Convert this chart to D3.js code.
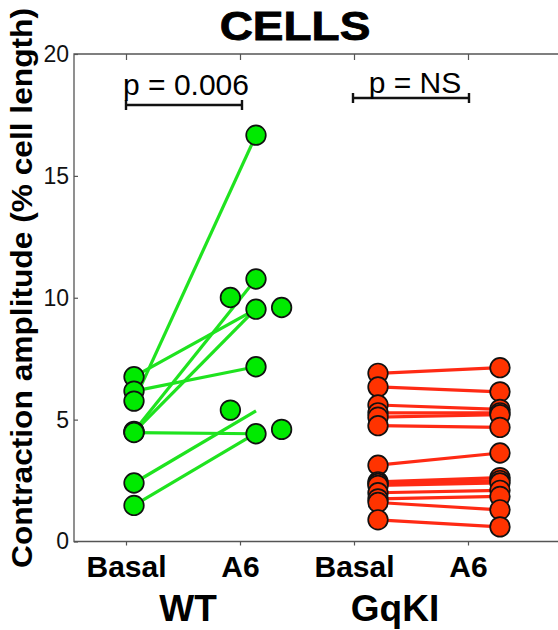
<!DOCTYPE html>
<html>
<head>
<meta charset="utf-8">
<script src="https://cdn.jsdelivr.net/npm/d3@7"></script>
<style>
  body { margin: 0; background: #fff; }
  svg { display: block; }
  text { font-family: "Liberation Sans", Arial, Helvetica, sans-serif; }
</style>
</head>
<body>
<div id="chart"></div>
<script>
const width = 558;
const height = 630;
const frame = { left: 74, right: 558, top: 54, bottom: 541.5 };

const categories = ["Basal", "A6", "Basal", "A6"];
const groups = ["WT", "GqKI"];
const yTicks = [0, 5, 10, 15, 20];
const pLabels = ["p = 0.006", "p = NS"];

// paired values, Basal -> A6 (one line per cell)
const wtBasal = [6.76, 6.17, 5.76, 4.52, 4.49, 4.47, 2.4, 1.48];
const wtA6 = [9.53, 7.17, 16.67, 10.77, 9.55, 4.42, 5.36, 4.45];
// A6 markers as plotted in the figure: [column, value]
const wtA6Dots = [
  [2, 16.67], [2, 10.77], [1.79, 10.01], [2, 9.53], [2.21, 9.6],
  [2, 7.17], [1.79, 5.39], [2, 4.42], [2.21, 4.6],
];
const gqBasal = [6.9, 6.34, 5.6, 5.28, 5.1, 4.75, 3.13, 2.45, 2.38, 2.3, 2.0, 1.75, 1.6, 0.89];
const gqA6 = [7.13, 6.14, 5.42, 5.28, 5.2, 4.68, 3.63, 2.62, 2.5, 2.4, 2.1, 1.85, 1.3, 0.6];

const green = { line: "#1fe31f", fill: "#00ea00" };
const red = { line: "#ff2a14", fill: "#ff3300" };

const svg = d3.select("#chart")
  .append("svg")
  .attr("width", width)
  .attr("height", height);

const y = d3.scaleLinear().domain([0, 20]).range([frame.bottom, frame.top]);
const x = d3.scaleLinear().domain([1, 4]).range([134, 500]);
const xCat = d3.scalePoint().domain([0, 1, 2, 3]).range([126, 468]);

// frame lines (left, top, bottom)
svg.append("path")
  .attr("d", `M${frame.right},${frame.top}H${frame.left}V${frame.bottom}H${frame.right}`)
  .attr("fill", "none")
  .attr("stroke", "#555")
  .attr("stroke-width", 1.3);

const yAxis = svg.append("g")
  .attr("transform", `translate(${frame.left},0)`)
  .call(d3.axisLeft(y).tickValues(yTicks).tickSizeInner(-4).tickSizeOuter(0).tickPadding(5));
yAxis.select(".domain").remove();
yAxis.selectAll("line").attr("stroke", "#555").attr("stroke-width", 1.2);
yAxis.selectAll("text").attr("font-size", 23).attr("fill", "#111").attr("font-family", "Liberation Sans, Arial, sans-serif");

const topAxis = svg.append("g")
  .attr("transform", `translate(0,${frame.top})`)
  .call(d3.axisTop(xCat).tickSizeInner(-6).tickSizeOuter(0).tickFormat(""));
topAxis.select(".domain").remove();
topAxis.selectAll("line").attr("stroke", "#555").attr("stroke-width", 1.2);

const bottomAxis = svg.append("g")
  .attr("transform", `translate(0,${frame.bottom})`)
  .call(d3.axisBottom(xCat).tickSizeInner(4).tickSizeOuter(0).tickPadding(10).tickFormat((i) => categories[i]));
bottomAxis.select(".domain").remove();
bottomAxis.selectAll("line").attr("stroke", "#555").attr("stroke-width", 1.2);
bottomAxis.selectAll("text")
  .attr("font-size", 30)
  .attr("font-weight", "bold")
  .attr("fill", "#000")
  .attr("font-family", "Liberation Sans, Arial, sans-serif");

// group labels
svg.selectAll(".group-label")
  .data(groups)
  .join("text")
  .attr("class", "group-label")
  .attr("x", (d, i) => [188, 395][i])
  .attr("y", 621)
  .attr("text-anchor", "middle")
  .attr("font-size", 37)
  .attr("font-weight", "bold")
  .text((d) => d);

// title
svg.append("text")
  .attr("transform", "translate(295,40) scale(1.15,1)")
  .attr("text-anchor", "middle")
  .attr("font-size", 40)
  .attr("font-weight", "bold")
  .attr("stroke", "#000")
  .attr("stroke-width", 0.8)
  .text("CELLS");

// y label
svg.append("text")
  .attr("transform", "translate(32,288) rotate(-90)")
  .attr("text-anchor", "middle")
  .attr("font-size", 29)
  .attr("font-weight", "bold")
  .attr("textLength", 560)
  .attr("lengthAdjust", "spacingAndGlyphs")
  .text("Contraction amplitude (% cell length)");

// significance brackets
const brackets = [
  { x0: xCat(0), x1: xCat(1) + 2, y: 105, tx: 186, ty: 95 },
  { x0: xCat(2) - 1, x1: xCat(3) + 1, y: 98, tx: 415, ty: 93 },
];
brackets.forEach((b, i) => {
  svg.append("path")
    .attr("d", `M${b.x0},${b.y - 5}V${b.y + 5}M${b.x0},${b.y}H${b.x1}M${b.x1},${b.y - 5}V${b.y + 5}`)
    .attr("fill", "none")
    .attr("stroke", "#111")
    .attr("stroke-width", 2.4);
  svg.append("text")
    .attr("x", b.tx)
    .attr("y", b.ty)
    .attr("text-anchor", "middle")
    .attr("font-size", 30)
    .text(pLabels[i]);
});

function drawPairs(basal, a6, colBasal, colA6, colors) {
  svg.append("g")
    .selectAll("line")
    .data(d3.zip(basal, a6))
    .join("line")
    .attr("x1", x(colBasal))
    .attr("y1", (d) => y(d[0]))
    .attr("x2", x(colA6))
    .attr("y2", (d) => y(d[1]))
    .attr("stroke", colors.line)
    .attr("stroke-width", 3.2);
}

function drawDots(points, colors) {
  svg.append("g")
    .selectAll("circle")
    .data(points)
    .join("circle")
    .attr("cx", (d) => x(d[0]))
    .attr("cy", (d) => y(d[1]))
    .attr("r", 9.8)
    .attr("fill", colors.fill)
    .attr("stroke", "#111")
    .attr("stroke-width", 1.7);
}

drawPairs(wtBasal, wtA6, 1, 2, green);
drawDots(wtBasal.map((v) => [1, v]), green);
drawDots(wtA6Dots, green);

drawPairs(gqBasal, gqA6, 3, 4, red);
drawDots(gqBasal.map((v) => [3, v]), red);
drawDots(gqA6.map((v) => [4, v]), red);
</script>
</body>
</html>
